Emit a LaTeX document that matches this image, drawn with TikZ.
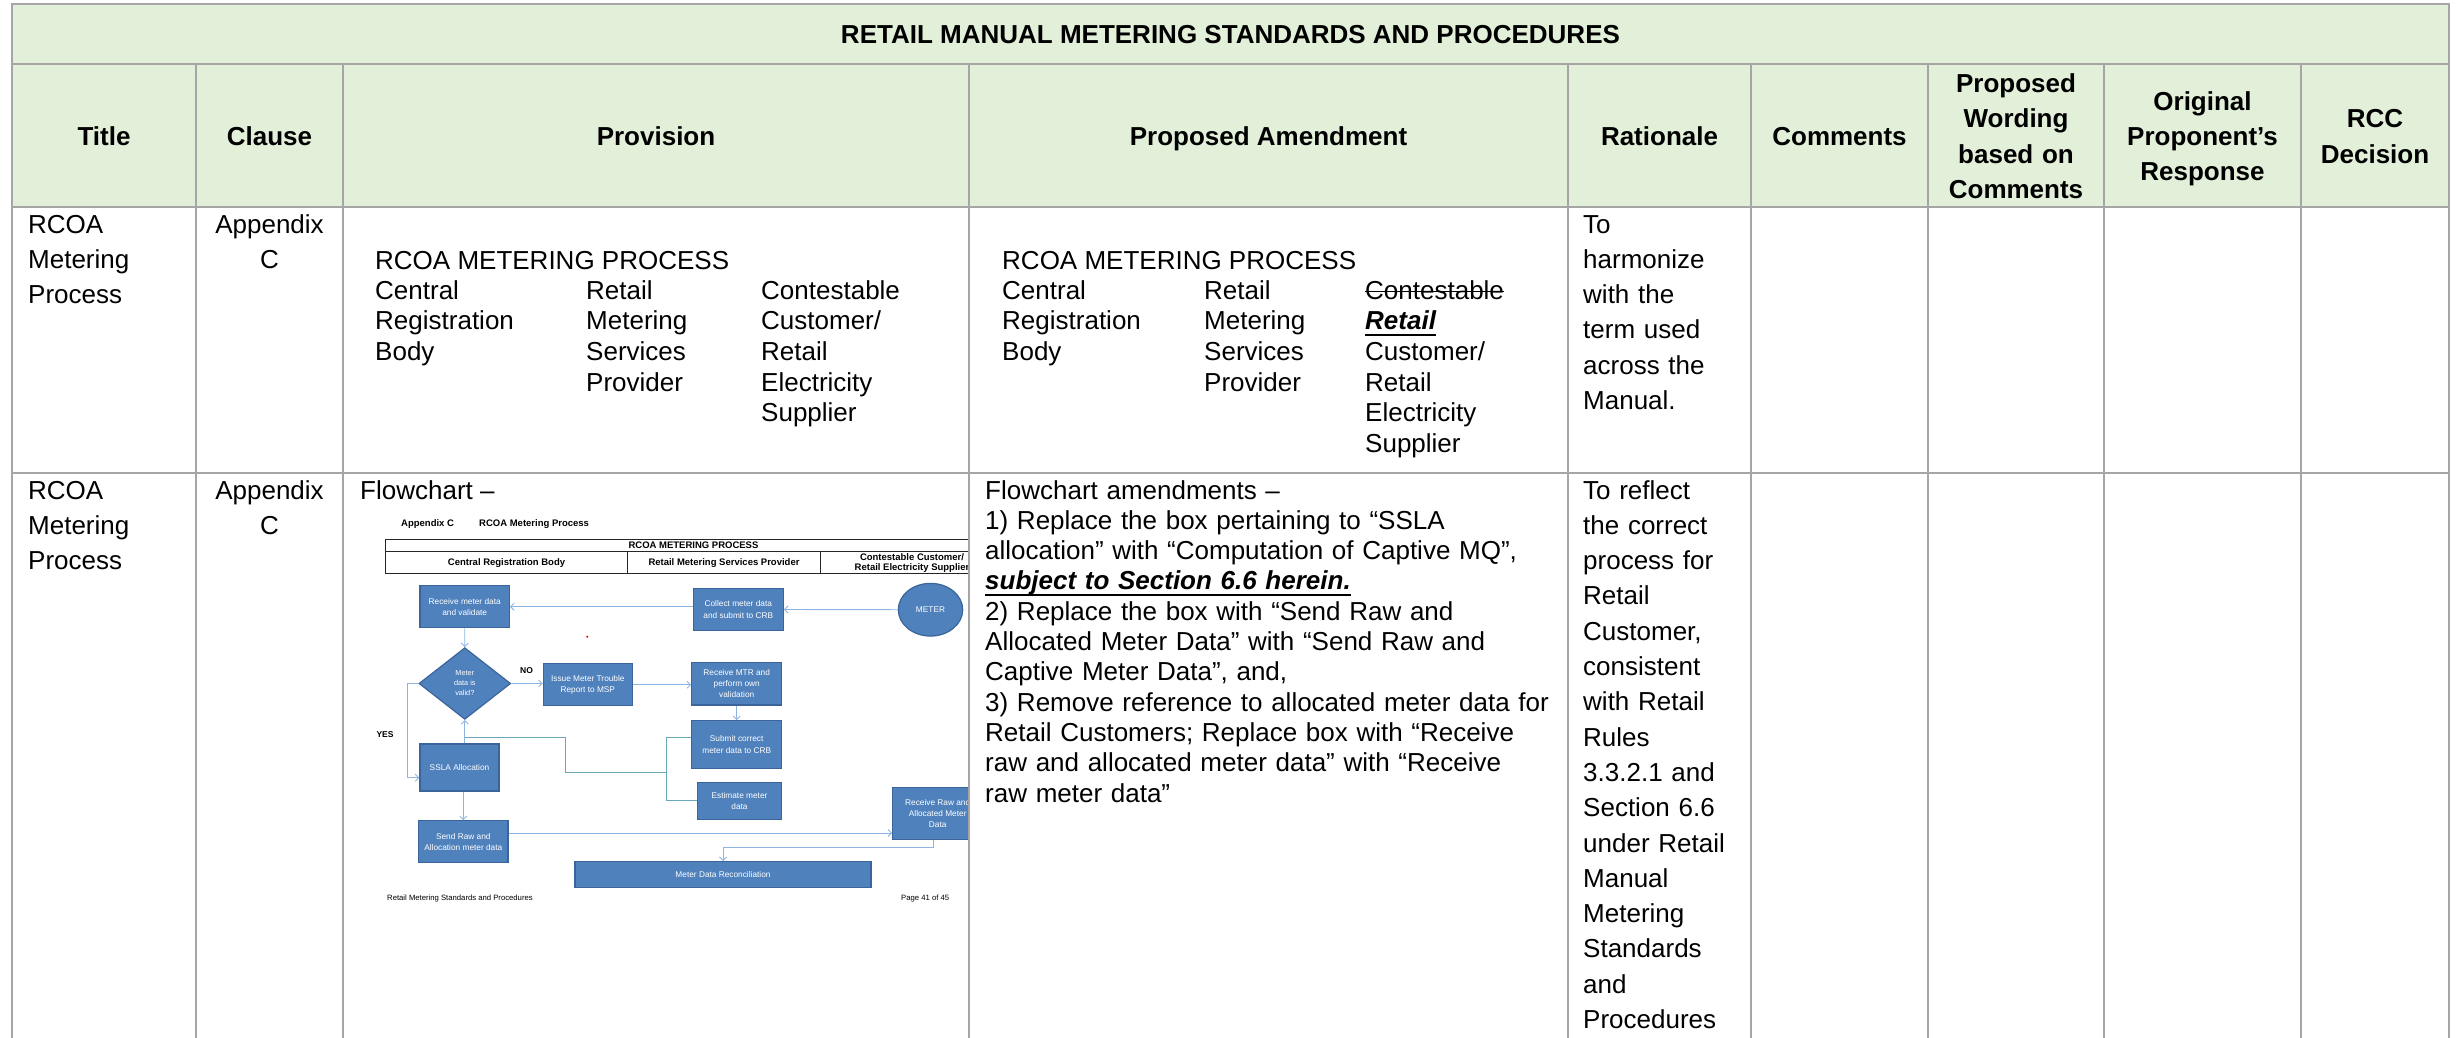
\documentclass[tikz,border=0pt]{standalone}
\usepackage{fontspec}
\setmainfont{Liberation Sans}
\usepackage{tikz}
\usetikzlibrary{shapes,calc,positioning,arrows.meta}

\definecolor{gridgray}{HTML}{A6A6A6}
\definecolor{hdrgreen}{HTML}{E2EFD9}
\definecolor{boxblue}{HTML}{4F81BD}
\definecolor{boxedge}{HTML}{3B659A}
\definecolor{linkblue}{HTML}{8DB4E2}
\definecolor{linkteal}{HTML}{6AA8B8}

\newcommand{\cellfont}{\fontsize{26}{35.3}\selectfont}
\newcommand{\subfont}{\fontsize{26}{30.7}\selectfont}
\newcommand{\amdfont}{\fontsize{26}{30.3}\selectfont}
\newcommand{\boxfont}{\fontsize{8.3}{11.2}\selectfont}
\newcommand{\tabfont}{\fontsize{9.5}{10.6}\selectfont\bfseries}
\newsavebox{\wordbox}
\newcommand{\strikeword}[1]{\leavevmode\sbox\wordbox{#1}\rlap{\rule[7pt]{\wd\wordbox}{1.2pt}}\usebox\wordbox}
\newcommand{\ulword}[1]{\leavevmode\sbox\wordbox{#1}\rlap{\rule[-6.3pt]{\wd\wordbox}{1.8pt}}\usebox\wordbox}

\tikzset{
	tabline/.style={draw=gridgray, line width=2pt, line cap=rect},
	hdr/.style={font=\cellfont\bfseries, align=center, inner sep=0, anchor=base},
	celltext/.style={font=\cellfont, align=left, inner sep=0, anchor=base west},
	subtext/.style={font=\subfont, align=left, inner sep=0, anchor=base west},
	fcbox/.style={rectangle, draw=boxedge, line width=1.2pt, fill=boxblue, text=white, font=\boxfont, align=center, inner sep=1pt},
	fcdiamond/.style={diamond, aspect=1.28, draw=boxedge, line width=1.2pt, fill=boxblue, text=white, font=\fontsize{7.3}{10}\selectfont, align=center, inner sep=0},
	fcarrow/.style={->, >={Straight Barb[width=7pt,length=3.5pt]}, color=linkblue, line width=0.9pt},
	fcjoin/.style={color=linkteal, line width=0.9pt},
	fcnote/.style={font=\tabfont, inner sep=0, anchor=base west},
	fclabel/.style={font=\fontsize{8.5}{10}\selectfont\bfseries, inner sep=0},
	fcfoot/.style={font=\fontsize{7.7}{9}\selectfont, inner sep=0, anchor=base west},
	fctab/.style={draw=black!85, line width=1.2pt}
}

\begin{document}
\begin{tikzpicture}[x=1pt,y=-1pt]
	\useasboundingbox (0,0) rectangle (2459,1037);

	%%header background
	\fill[hdrgreen] (12,4) rectangle (2449,207);

	%%flowchart picture in the provision cell
	\begin{scope}
		\clip (344,474) rectangle (968,1037);
		%page heading
		\node[fcnote] (appc) at (401,526.5) {Appendix C};
		\node[fcnote] (appname) at (479,526.5) {RCOA Metering Process};
		%swimlane table
		\draw[fctab] (385.7,539.3) rectangle (1010,573.7);
		\draw[fctab] (385.7,551.7) -- (1010,551.7);
		\draw[fctab] (627.3,551.7) -- (627.3,573.7);
		\draw[fctab] (820.7,551.7) -- (820.7,573.7);
		\node[font=\tabfont,inner sep=0] (lanetitle) at (693.5,545.5) {RCOA METERING PROCESS};
		\node[font=\tabfont,inner sep=0] (lanecrb) at (506.5,562.7) {Central Registration Body};
		\node[font=\tabfont,inner sep=0] (lanemsp) at (724,562.7) {Retail Metering Services Provider};
		\node[font=\tabfont,inner sep=0,align=center] (lanecus) at (912,563) {Contestable Customer/\\Retail Electricity Supplier};

		%boxes
		\node[fcbox,minimum width=89.3,minimum height=42] (recv) at (464.7,606.7) {Receive meter data\\and validate};
		\node[fcbox,minimum width=90,minimum height=42.4] (collect) at (738.3,609.5) {Collect meter data\\and submit to CRB};
		\node[fcbox,ellipse,minimum width=64.4,minimum height=52.7] (meter) at (930.5,609.7) {METER};
		\node[fcdiamond,minimum width=91.7,minimum height=71.7] (valid) at (464.8,683.5) {Meter\\data is\\valid?};
		\node[fcbox,minimum width=89,minimum height=42] (issue) at (587.8,684.7) {Issue Meter Trouble\\Report to MSP};
		\node[fcbox,minimum width=90,minimum height=42.7] (mtr) at (736.7,683.7) {Receive MTR and\\perform own\\validation};
		\node[fcbox,minimum width=90,minimum height=47.7] (submit) at (736.7,744.5) {Submit correct\\meter data to CRB};
		\node[fcbox,minimum width=84.3,minimum height=37] (estimate) at (739.5,800.8) {Estimate meter\\data};
		\node[fcbox,minimum width=79,minimum height=47] (ssla) at (459.5,767.5) {SSLA Allocation};
		\node[fcbox,minimum width=89.3,minimum height=42] (sendraw) at (463.3,841.7) {Send Raw and\\Allocation meter data};
		\node[fcbox,minimum width=90,minimum height=52] (recvraw) at (937.7,813.3) {Receive Raw and\\Allocated Meter\\Data};
		\node[fcbox,minimum width=296,minimum height=26] (recon) at (723,874.7) {Meter Data Reconciliation};

		\node[fclabel] (nolab) at (526.5,670.7) {NO};
		\node[fclabel] (yeslab) at (385,734.3) {YES};
		\fill[red] (587.3,636.7) circle (1.1);

		%connectors
		\draw[fcarrow] (meter.west) -- (collect.east);
		\draw[fcarrow] (collect.west |- recv.east) -- (recv.east);
		\draw[fcarrow] (recv.south) -- (valid.north);
		\draw[fcarrow] (valid.east) -- (valid.east -| issue.west);
		\draw[fcarrow] (issue.east) -- (issue.east -| mtr.west);
		\draw[fcarrow] (mtr.south) -- (mtr.south |- submit.north);
		\draw[fcarrow] (valid.west) -- ++(-11.3,0) |- ([yshift=-10.2pt]ssla.west);
		\draw[fcarrow] (valid.south |- ssla.north) -- (valid.south);
		\draw[fcarrow] (sendraw.north |- ssla.south) -- (sendraw.north);
		\draw[fcarrow] ([yshift=8.7pt]sendraw.east) -- ([yshift=8.7pt]sendraw.east -| recvraw.west);
		\draw[fcarrow] ([xshift=-4.4pt]recvraw.south) -- ++(0,8) -| (recon.north);
		%correction loop back to the check
		\coordinate (looptop) at ([xshift=-24.4pt,yshift=7.2pt]submit.west);
		\coordinate (loopmid) at (looptop |- 0,772.7);
		\draw[fcjoin] ([yshift=7.2pt]submit.west) -- (looptop) -- (looptop |- estimate.west) -- (estimate.west);
		\draw[fcjoin] (loopmid) -- ++(-101.6,0) |- (valid.south |- looptop);

		%page footer
		\node[fcfoot] (footl) at (387,900) {Retail Metering Standards and Procedures};
		\node[fcfoot] (footr) at (901,900) {Page 41 of 45};
	\end{scope}

	%%table rules
	\draw[tabline] (12,4) -- (2449,4);
	\draw[tabline] (12,64) -- (2449,64);
	\draw[tabline] (12,207) -- (2449,207);
	\draw[tabline] (12,473) -- (2449,473);
	\draw[tabline] (12,4) -- (12,1037);
	\draw[tabline] (2449,4) -- (2449,1037);
	\draw[tabline] (196,64) -- (196,1037);
	\draw[tabline] (343,64) -- (343,1037);
	\draw[tabline] (969,64) -- (969,1037);
	\draw[tabline] (1568,64) -- (1568,1037);
	\draw[tabline] (1751,64) -- (1751,1037);
	\draw[tabline] (1928,64) -- (1928,1037);
	\draw[tabline] (2104,64) -- (2104,1037);
	\draw[tabline] (2301,64) -- (2301,1037);

	%%header texts
	\node[hdr] (tabtitle) at (1230.5,43.3) {RETAIL MANUAL METERING STANDARDS AND PROCEDURES};
	\node[hdr] (htitle) at (104,145.3) {Title};
	\node[hdr] (hclause) at (269.5,145.3) {Clause};
	\node[hdr] (hprov) at (656,145.3) {Provision};
	\node[hdr] (hamend) at (1268.5,145.3) {Proposed Amendment};
	\node[hdr] (hrat) at (1659.5,145.3) {Rationale};
	\node[hdr] (hcomm) at (1839.5,145.3) {Comments};
	\node[hdr,text width=170] (hword) at (2016,92.4) {Proposed\\Wording\\based on\\Comments};
	\node[hdr,text width=190] (hresp) at (2202.5,110) {Original\\Proponent’s\\Response};
	\node[hdr,text width=140] (hdec) at (2375,127.7) {RCC\\Decision};

	%%row 1
	\node[celltext,text width=165] (title1) at (28,233) {RCOA\\Metering\\Process};
	\node[celltext,anchor=base,align=center,text width=140] (clause1) at (269.5,233) {Appendix\\C};
	%provision
	\node[celltext] (prov1) at (375,269) {RCOA METERING PROCESS};
	\node[subtext,text width=200] (prov1crb) at (375,299) {Central\\Registration\\Body};
	\node[subtext,text width=170] (prov1msp) at (586,299) {Retail\\Metering\\Services\\Provider};
	\node[subtext,text width=200] (prov1cus) at (761,299) {Contestable\\Customer/\\Retail\\Electricity\\Supplier};
	%amendment
	\node[celltext] (amd1) at (1002,269) {RCOA METERING PROCESS};
	\node[subtext,text width=190] (amd1crb) at (1002,299) {Central\\Registration\\Body};
	\node[subtext,text width=160] (amd1msp) at (1204,299) {Retail\\Metering\\Services\\Provider};
	\node[subtext,text width=200] (amd1cus) at (1365,299) {\strikeword{Contestable}\\\ulword{\textbf{\textit{Retail}}}\\Customer/\\Retail\\Electricity\\Supplier};
	%rationale
	\node[celltext,text width=175] (rat1) at (1583,233) {To\\harmonize\\with the\\term used\\across the\\Manual.};

	%%row 2
	\node[celltext,text width=165] (title2) at (28,499) {RCOA\\Metering\\Process};
	\node[celltext,anchor=base,align=center,text width=140] (clause2) at (269.5,499) {Appendix\\C};
	\node[celltext] (prov2) at (360,499) {Flowchart –};
	\node[celltext,font=\amdfont,text width=600] (amd2) at (985,499) {Flowchart amendments –\\1) Replace the box pertaining to “SSLA\\allocation” with “Computation of Captive MQ”,\\\ulword{\textbf{\textit{subject to Section 6.6 herein.}}}\\2) Replace the box with “Send Raw and\\Allocated Meter Data” with “Send Raw and\\Captive Meter Data”, and,\\3) Remove reference to allocated meter data for\\Retail Customers; Replace box with “Receive\\raw and allocated meter data” with “Receive\\raw meter data”};
	\node[celltext,text width=175] (rat2) at (1583,499) {To reflect\\the correct\\process for\\Retail\\Customer,\\consistent\\with Retail\\Rules\\3.3.2.1 and\\Section 6.6\\under Retail\\Manual\\Metering\\Standards\\and\\Procedures};
\end{tikzpicture}
\end{document}
